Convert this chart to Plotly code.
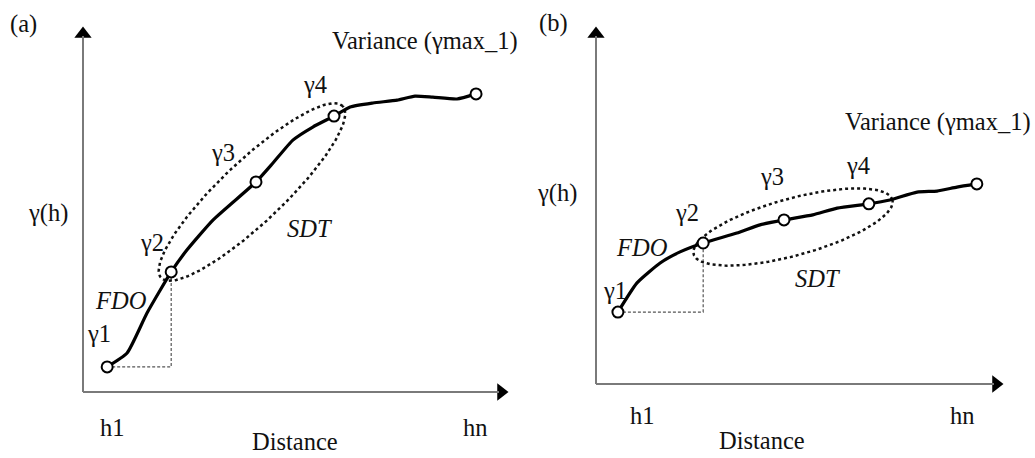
import numpy as np
import plotly.graph_objects as go

W, H = 1035, 458

# ---------------- data (abstract units: 0-100 on each axis) ----------------
dist_a = [5.7, 10.4, 15.1, 20.8, 24.5, 30.7, 40.8, 44.8, 49.5, 54.2, 59.2,
          63.0, 68.4, 74.1, 78.3, 82.5, 88.2, 92.7]
gamma_a = [6.9, 10.7, 21.7, 33.0, 39.0, 47.3, 57.7, 62.9, 69.2, 72.8, 75.8,
           78.3, 79.4, 80.2, 81.3, 81.0, 80.5, 81.9]
key_a = [0, 3, 6, 10, 17]          # gamma1, gamma2, gamma3, gamma4, last lag

dist_b = [5.4, 10.1, 15.8, 20.7, 26.4, 34.7, 40.4, 46.3, 53.4, 59.4, 67.2,
          72.4, 79.1, 84.0, 88.9, 93.8]
gamma_b = [20.2, 28.4, 34.0, 37.1, 39.6, 42.4, 44.7, 46.1, 47.5, 49.4, 50.6,
           51.7, 53.9, 54.2, 55.3, 56.2]
key_b = [0, 4, 7, 10, 15]

tick_labels = ["h1", "hn"]
panel_tags = ["(a)", "(b)"]
axis_title_x = "Distance"
axis_title_y = "γ(h)"
sill_label = "Variance (γmax_1)"
gamma_labels = ["γ1", "γ2", "γ3", "γ4"]

# ---------------- geometry (pixels) ----------------
FONT = "Liberation Serif"
FS = 24.5
PAD = 22

panels = [
    dict(ox=83, oy=392, tx=507, ty=28, xs=dist_a, ys=gamma_a, key=key_a,
         ell=dict(cx=252, cy=192, a=125, b=31, ang=43.4),
         labels={"(a)": (23, 24), "var": (425, 41), "γ4": (315, 85), "γ3": (223, 152),
                 "γh": (48, 213), "SDT": (310, 228), "γ2": (152, 243), "FDO": (121, 300),
                 "γ1": (99, 333), "h1": (112, 427), "hn": (475, 427), "dist": (295, 441)}),
    dict(ox=596, oy=384, tx=1002, ty=28, xs=dist_b, ys=gamma_b, key=key_b,
         ell=dict(cx=793, cy=227, a=103, b=28.5, ang=15.3),
         labels={"(a)": (553, 23), "var": (938, 122), "γ4": (858, 165), "γ3": (772, 177),
                 "γh": (557, 193), "SDT": (818, 278), "γ2": (687, 213), "FDO": (642, 247),
                 "γ1": (615, 290), "h1": (642, 415), "hn": (962, 415), "dist": (762, 440)}),
]

fig = go.Figure()
layout = dict(width=W, height=H, margin=dict(l=0, r=0, t=0, b=0),
              paper_bgcolor="white", plot_bgcolor="white", showlegend=False)
annotations = []
shapes = []

for i, p in enumerate(panels):
    sx = (p["tx"] - p["ox"]) / 100.0
    sy = (p["oy"] - p["ty"]) / 100.0
    xn = "x" if i == 0 else "x2"
    yn = "y" if i == 0 else "y2"
    xk = "xaxis" if i == 0 else "xaxis2"
    yk = "yaxis" if i == 0 else "yaxis2"
    x0p, x1p = p["ox"] - PAD, p["tx"] + PAD
    y0p, y1p = p["oy"] + PAD, p["ty"] - PAD
    layout[xk] = dict(domain=[x0p / W, x1p / W], range=[-PAD / sx, 100 + PAD / sx],
                      visible=False, anchor=yn)
    layout[yk] = dict(domain=[1 - y0p / H, 1 - y1p / H], range=[-PAD / sy, 100 + PAD / sy],
                      visible=False, anchor=xn)

    # axes (gray lines + black arrow heads)
    shapes.append(dict(type="line", xref=xn, yref=yn, x0=0, y0=0, x1=0, y1=100 - 8 / sy,
                       line=dict(color="#7a7a7a", width=2)))
    shapes.append(dict(type="line", xref=xn, yref=yn, x0=0, y0=0, x1=100 - 8 / sx, y1=0,
                       line=dict(color="#7a7a7a", width=2)))
    fig.add_trace(go.Scatter(x=[0], y=[100 - 6 / sy], mode="markers", xaxis=xn, yaxis=yn,
                             marker=dict(symbol="triangle-up", size=15, color="black"),
                             hoverinfo="skip", cliponaxis=False))
    fig.add_trace(go.Scatter(x=[100 - 6 / sx], y=[0], mode="markers", xaxis=xn, yaxis=yn,
                             marker=dict(symbol="triangle-right", size=15, color="black"),
                             hoverinfo="skip", cliponaxis=False))

    xs, ys, key = p["xs"], p["ys"], p["key"]
    # dashed guide from gamma1 to gamma2
    fig.add_trace(go.Scatter(x=[xs[key[0]], xs[key[1]], xs[key[1]]],
                             y=[ys[key[0]], ys[key[0]], ys[key[1]]],
                             mode="lines", xaxis=xn, yaxis=yn,
                             line=dict(color="#555555", width=1.2, dash="3px,2px"),
                             hoverinfo="skip", cliponaxis=False))

    # dotted ellipse (SDT)
    e = p["ell"]
    t = np.linspace(0, 2 * np.pi, 200)
    th = np.deg2rad(e["ang"])
    dxp = e["a"] * np.cos(t) * np.cos(th) - e["b"] * np.sin(t) * np.sin(th)
    dyp = e["a"] * np.cos(t) * np.sin(th) + e["b"] * np.sin(t) * np.cos(th)
    ex = (e["cx"] - p["ox"]) / sx + dxp / sx
    ey = (p["oy"] - e["cy"]) / sy + dyp / sy
    fig.add_trace(go.Scatter(x=ex, y=ey, mode="lines", xaxis=xn, yaxis=yn,
                             line=dict(color="#111111", width=2.5, dash="dot"),
                             hoverinfo="skip", cliponaxis=False))

    # variogram curve
    fig.add_trace(go.Scatter(x=xs, y=ys, mode="lines", xaxis=xn, yaxis=yn,
                             line=dict(color="black", width=3.2, shape="spline", smoothing=0.5),
                             hoverinfo="skip", cliponaxis=False))
    fig.add_trace(go.Scatter(x=[xs[k] for k in key], y=[ys[k] for k in key],
                             mode="markers", xaxis=xn, yaxis=yn,
                             marker=dict(symbol="circle", size=11, color="white",
                                         line=dict(color="black", width=2)),
                             hoverinfo="skip", cliponaxis=False))

    L = p["labels"]
    texts = {"(a)": panel_tags[i], "var": sill_label, "γ4": gamma_labels[3],
             "γ3": gamma_labels[2], "γh": axis_title_y, "SDT": "<i>SDT</i>",
             "γ2": gamma_labels[1], "FDO": "<i>FDO</i>", "γ1": gamma_labels[0],
             "h1": tick_labels[0], "hn": tick_labels[1], "dist": axis_title_x}
    for k, (px, py) in L.items():
        annotations.append(dict(x=px / W, y=1 - py / H, xref="paper", yref="paper",
                                text=texts[k], showarrow=False, xanchor="center",
                                yanchor="middle",
                                font=dict(family=FONT, size=FS, color="#111111")))

layout["annotations"] = annotations
layout["shapes"] = shapes
fig.update_layout(**layout)
fig.write_html("out.html", config={"displayModeBar": False},
               post_script="document.body.style.margin='0';document.body.style.overflow='hidden';")
